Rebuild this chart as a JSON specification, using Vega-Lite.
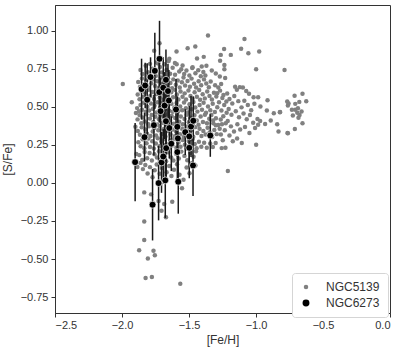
{
"$schema":"https://vega.github.io/schema/vega-lite/v6.json",
"width":335,"height":308,"autosize":"none",
"padding":{"left":55,"top":5,"right":17,"bottom":44},
"config":{"view":{"stroke":"#333","strokeWidth":1},
"axis":{"domainColor":"#333","tickColor":"#333","tickSize":4,"labelColor":"#333","labelFont":"Liberation Sans","labelFontSize":11,"titleFont":"Liberation Sans","titleFontSize":12,"titleFontWeight":"normal","titleColor":"#333","grid":false},
"legend":{"labelFont":"Liberation Sans","labelFontSize":12,"labelColor":"#333"}},
"datasets":{
"g":[
{"x":-1.862,"y":0.742},{"x":-1.848,"y":0.716},{"x":-1.823,"y":0.771},{"x":-1.806,"y":0.728},{"x":-1.791,"y":0.783},{"x":-1.774,"y":0.751},{"x":-1.748,"y":0.704},{"x":-1.741,"y":0.792},{"x":-1.717,"y":0.763},{"x":-1.702,"y":0.727},{"x":-1.683,"y":0.781},{"x":-1.668,"y":0.742},{"x":-1.652,"y":0.802},{"x":-1.641,"y":0.718},{"x":-1.622,"y":0.757},{"x":-1.604,"y":0.712},{"x":-1.592,"y":0.781},{"x":-1.573,"y":0.733},{"x":-1.558,"y":0.748},{"x":-1.536,"y":0.716},{"x":-1.519,"y":0.739},{"x":-1.497,"y":0.707},{"x":-1.476,"y":0.756},{"x":-1.452,"y":0.722},{"x":-1.431,"y":0.741},{"x":-1.412,"y":0.701},{"x":-1.393,"y":0.729},{"x":-1.378,"y":0.706},
{"x":-1.879,"y":0.664},{"x":-1.866,"y":0.631},{"x":-1.851,"y":0.687},{"x":-1.838,"y":0.648},{"x":-1.819,"y":0.672},{"x":-1.802,"y":0.627},{"x":-1.796,"y":0.691},{"x":-1.781,"y":0.655},{"x":-1.764,"y":0.682},{"x":-1.753,"y":0.638},{"x":-1.738,"y":0.669},{"x":-1.726,"y":0.624},{"x":-1.709,"y":0.693},{"x":-1.697,"y":0.651},{"x":-1.681,"y":0.672},{"x":-1.664,"y":0.633},{"x":-1.657,"y":0.688},{"x":-1.639,"y":0.657},{"x":-1.626,"y":0.622},{"x":-1.617,"y":0.681},{"x":-1.598,"y":0.645},{"x":-1.584,"y":0.674},{"x":-1.569,"y":0.628},{"x":-1.553,"y":0.662},{"x":-1.541,"y":0.694},{"x":-1.529,"y":0.641},{"x":-1.511,"y":0.671},{"x":-1.493,"y":0.633},{"x":-1.481,"y":0.686},{"x":-1.462,"y":0.652},{"x":-1.447,"y":0.627},{"x":-1.428,"y":0.668},{"x":-1.409,"y":0.643},{"x":-1.388,"y":0.681},{"x":-1.371,"y":0.654},{"x":-1.352,"y":0.629},{"x":-1.338,"y":0.667},{"x":-1.305,"y":0.642},{"x":-1.281,"y":0.628},
{"x":-1.883,"y":0.582},{"x":-1.869,"y":0.551},{"x":-1.857,"y":0.604},{"x":-1.842,"y":0.566},{"x":-1.828,"y":0.593},{"x":-1.815,"y":0.547},{"x":-1.801,"y":0.612},{"x":-1.789,"y":0.571},{"x":-1.772,"y":0.598},{"x":-1.761,"y":0.552},{"x":-1.744,"y":0.584},{"x":-1.731,"y":0.609},{"x":-1.718,"y":0.561},{"x":-1.703,"y":0.591},{"x":-1.689,"y":0.548},{"x":-1.676,"y":0.606},{"x":-1.662,"y":0.574},{"x":-1.646,"y":0.552},{"x":-1.633,"y":0.597},{"x":-1.619,"y":0.563},{"x":-1.607,"y":0.612},{"x":-1.591,"y":0.581},{"x":-1.579,"y":0.549},{"x":-1.563,"y":0.602},{"x":-1.548,"y":0.567},{"x":-1.532,"y":0.589},{"x":-1.522,"y":0.548},{"x":-1.504,"y":0.608},{"x":-1.489,"y":0.571},{"x":-1.473,"y":0.553},{"x":-1.458,"y":0.596},{"x":-1.441,"y":0.567},{"x":-1.424,"y":0.611},{"x":-1.417,"y":0.547},{"x":-1.398,"y":0.583},{"x":-1.382,"y":0.556},{"x":-1.364,"y":0.602},{"x":-1.347,"y":0.571},{"x":-1.329,"y":0.549},{"x":-1.314,"y":0.593},{"x":-1.296,"y":0.568},{"x":-1.268,"y":0.607},{"x":-1.251,"y":0.558},
{"x":-1.887,"y":0.492},{"x":-1.874,"y":0.471},{"x":-1.862,"y":0.513},{"x":-1.851,"y":0.482},{"x":-1.836,"y":0.527},{"x":-1.823,"y":0.468},{"x":-1.811,"y":0.501},{"x":-1.797,"y":0.476},{"x":-1.784,"y":0.523},{"x":-1.769,"y":0.487},{"x":-1.757,"y":0.508},{"x":-1.742,"y":0.463},{"x":-1.733,"y":0.531},{"x":-1.716,"y":0.494},{"x":-1.701,"y":0.467},{"x":-1.694,"y":0.529},{"x":-1.679,"y":0.481},{"x":-1.661,"y":0.512},{"x":-1.648,"y":0.474},{"x":-1.631,"y":0.521},{"x":-1.622,"y":0.468},{"x":-1.609,"y":0.497},{"x":-1.593,"y":0.526},{"x":-1.581,"y":0.471},{"x":-1.566,"y":0.503},{"x":-1.551,"y":0.478},{"x":-1.537,"y":0.529},{"x":-1.523,"y":0.491},{"x":-1.508,"y":0.463},{"x":-1.496,"y":0.517},{"x":-1.479,"y":0.484},{"x":-1.467,"y":0.532},{"x":-1.453,"y":0.496},{"x":-1.437,"y":0.469},{"x":-1.421,"y":0.512},{"x":-1.403,"y":0.481},{"x":-1.391,"y":0.527},{"x":-1.373,"y":0.462},{"x":-1.358,"y":0.503},{"x":-1.341,"y":0.478},{"x":-1.323,"y":0.521},{"x":-1.307,"y":0.466},{"x":-1.289,"y":0.498},{"x":-1.276,"y":0.531},{"x":-1.258,"y":0.477},{"x":-1.237,"y":0.512},{"x":-1.219,"y":0.462},
{"x":-1.884,"y":0.418},{"x":-1.869,"y":0.446},{"x":-1.856,"y":0.392},{"x":-1.847,"y":0.431},{"x":-1.831,"y":0.404},{"x":-1.818,"y":0.452},{"x":-1.806,"y":0.387},{"x":-1.792,"y":0.423},{"x":-1.779,"y":0.447},{"x":-1.766,"y":0.401},{"x":-1.751,"y":0.436},{"x":-1.738,"y":0.384},{"x":-1.724,"y":0.419},{"x":-1.711,"y":0.448},{"x":-1.698,"y":0.396},{"x":-1.686,"y":0.432},{"x":-1.671,"y":0.383},{"x":-1.659,"y":0.451},{"x":-1.643,"y":0.412},{"x":-1.629,"y":0.441},{"x":-1.614,"y":0.389},{"x":-1.603,"y":0.427},{"x":-1.588,"y":0.453},{"x":-1.573,"y":0.402},{"x":-1.561,"y":0.437},{"x":-1.546,"y":0.386},{"x":-1.533,"y":0.421},{"x":-1.517,"y":0.448},{"x":-1.502,"y":0.399},{"x":-1.487,"y":0.428},{"x":-1.471,"y":0.387},{"x":-1.459,"y":0.446},{"x":-1.442,"y":0.411},{"x":-1.429,"y":0.382},{"x":-1.413,"y":0.437},{"x":-1.396,"y":0.401},{"x":-1.381,"y":0.448},{"x":-1.366,"y":0.393},{"x":-1.349,"y":0.422},{"x":-1.333,"y":0.447},{"x":-1.318,"y":0.392},{"x":-1.299,"y":0.426},{"x":-1.282,"y":0.381},{"x":-1.263,"y":0.417},{"x":-1.244,"y":0.438},{"x":-1.226,"y":0.392},
{"x":-1.882,"y":0.342},{"x":-1.866,"y":0.317},{"x":-1.853,"y":0.366},{"x":-1.839,"y":0.303},{"x":-1.826,"y":0.351},{"x":-1.813,"y":0.324},{"x":-1.799,"y":0.372},{"x":-1.787,"y":0.309},{"x":-1.771,"y":0.338},{"x":-1.759,"y":0.361},{"x":-1.746,"y":0.312},{"x":-1.729,"y":0.347},{"x":-1.719,"y":0.374},{"x":-1.703,"y":0.322},{"x":-1.691,"y":0.353},{"x":-1.676,"y":0.306},{"x":-1.663,"y":0.341},{"x":-1.651,"y":0.371},{"x":-1.637,"y":0.318},{"x":-1.621,"y":0.352},{"x":-1.606,"y":0.307},{"x":-1.597,"y":0.339},{"x":-1.583,"y":0.373},{"x":-1.567,"y":0.321},{"x":-1.552,"y":0.356},{"x":-1.539,"y":0.303},{"x":-1.526,"y":0.344},{"x":-1.512,"y":0.371},{"x":-1.499,"y":0.316},{"x":-1.483,"y":0.348},{"x":-1.468,"y":0.304},{"x":-1.454,"y":0.367},{"x":-1.438,"y":0.329},{"x":-1.421,"y":0.356},{"x":-1.407,"y":0.309},{"x":-1.393,"y":0.342},{"x":-1.376,"y":0.318},{"x":-1.361,"y":0.363},{"x":-1.346,"y":0.331},{"x":-1.327,"y":0.302},{"x":-1.311,"y":0.348},{"x":-1.293,"y":0.321},{"x":-1.271,"y":0.357},
{"x":-1.878,"y":0.268},{"x":-1.861,"y":0.242},{"x":-1.846,"y":0.287},{"x":-1.833,"y":0.228},{"x":-1.817,"y":0.261},{"x":-1.803,"y":0.292},{"x":-1.791,"y":0.237},{"x":-1.774,"y":0.274},{"x":-1.762,"y":0.226},{"x":-1.747,"y":0.259},{"x":-1.733,"y":0.294},{"x":-1.721,"y":0.241},{"x":-1.706,"y":0.272},{"x":-1.693,"y":0.231},{"x":-1.683,"y":0.288},{"x":-1.667,"y":0.254},{"x":-1.652,"y":0.225},{"x":-1.638,"y":0.279},{"x":-1.624,"y":0.247},{"x":-1.611,"y":0.291},{"x":-1.594,"y":0.232},{"x":-1.578,"y":0.266},{"x":-1.563,"y":0.238},{"x":-1.547,"y":0.283},{"x":-1.531,"y":0.252},{"x":-1.518,"y":0.227},{"x":-1.503,"y":0.276},{"x":-1.487,"y":0.243},{"x":-1.472,"y":0.289},{"x":-1.457,"y":0.256},{"x":-1.443,"y":0.228},{"x":-1.426,"y":0.271},{"x":-1.408,"y":0.238},{"x":-1.387,"y":0.264},{"x":-1.367,"y":0.231},{"x":-1.342,"y":0.259},{"x":-1.322,"y":0.236},{"x":-1.301,"y":0.262},{"x":-1.256,"y":0.229},
{"x":-1.871,"y":0.183},{"x":-1.849,"y":0.151},{"x":-1.831,"y":0.204},{"x":-1.812,"y":0.162},{"x":-1.794,"y":0.197},{"x":-1.777,"y":0.148},{"x":-1.758,"y":0.189},{"x":-1.739,"y":0.167},{"x":-1.723,"y":0.209},{"x":-1.708,"y":0.153},{"x":-1.688,"y":0.186},{"x":-1.671,"y":0.142},{"x":-1.654,"y":0.201},{"x":-1.633,"y":0.168},{"x":-1.616,"y":0.147},{"x":-1.597,"y":0.192},{"x":-1.576,"y":0.161},{"x":-1.557,"y":0.206},{"x":-1.534,"y":0.178},{"x":-1.513,"y":0.149},{"x":-1.489,"y":0.197},{"x":-1.466,"y":0.172},{"x":-1.448,"y":0.208},
{"x":-1.885,"y":0.105},{"x":-1.862,"y":0.132},{"x":-1.844,"y":0.091},{"x":-1.826,"y":0.118},{"x":-1.809,"y":0.062},{"x":-1.791,"y":0.104},{"x":-1.772,"y":0.037},{"x":-1.756,"y":0.083},{"x":-1.741,"y":0.121},{"x":-1.719,"y":0.061},{"x":-1.702,"y":0.098},{"x":-1.686,"y":0.014},{"x":-1.667,"y":0.071},{"x":-1.648,"y":0.112},{"x":-1.631,"y":0.046},{"x":-1.612,"y":0.087},{"x":-1.589,"y":0.123},{"x":-1.571,"y":0.054},{"x":-1.552,"y":-0.035},{"x":-1.541,"y":0.021},{"x":-1.518,"y":0.102},{"x":-1.496,"y":0.064},{"x":-1.477,"y":0.131},{"x":-1.452,"y":0.115},
{"x":-1.834,"y":-0.062},{"x":-1.783,"y":-0.075},{"x":-1.727,"y":-0.118},{"x":-1.705,"y":-0.183},{"x":-1.685,"y":-0.139},{"x":-1.672,"y":-0.226},{"x":-1.625,"y":-0.123},{"x":-1.834,"y":-0.253},{"x":-1.834,"y":-0.375},
{"x":-1.872,"y":-0.443},{"x":-1.807,"y":-0.496},{"x":-1.824,"y":-0.625},{"x":-1.777,"y":-0.618},{"x":-1.765,"y":-0.445},{"x":-1.755,"y":-0.476},{"x":-1.565,"y":-0.662},
{"x":-1.72,"y":0.919},{"x":-1.76,"y":0.869},{"x":-1.593,"y":0.864},{"x":-1.647,"y":0.816},{"x":-1.51,"y":0.886},{"x":-1.453,"y":0.897},{"x":-1.44,"y":0.818},{"x":-1.39,"y":0.829},{"x":-1.358,"y":0.969},{"x":-1.268,"y":0.803},{"x":-1.238,"y":0.88},{"x":-1.236,"y":0.776},{"x":-1.236,"y":0.748},{"x":-1.473,"y":0.761},{"x":-1.405,"y":0.765},{"x":-1.37,"y":0.77},{"x":-1.188,"y":0.842},{"x":-1.263,"y":0.842},{"x":-1.111,"y":0.882},{"x":-1.086,"y":0.947},{"x":-1.057,"y":0.853},{"x":-0.976,"y":0.864},{"x":-0.999,"y":0.748},{"x":-0.787,"y":0.743},{"x":-1.605,"y":0.788},{"x":-1.548,"y":0.772},{"x":-1.705,"y":0.812},{"x":-1.731,"y":0.786},
{"x":-1.994,"y":0.65},{"x":-1.927,"y":0.53},{"x":-1.90,"y":0.37},{"x":-1.896,"y":0.46},{"x":-1.893,"y":0.19},
{"x":-1.156,"y":0.632},{"x":-1.121,"y":0.63},{"x":-1.143,"y":0.612},{"x":-1.098,"y":0.627},{"x":-1.073,"y":0.605},{"x":-1.052,"y":0.586},{"x":-1.018,"y":0.563},{"x":-0.984,"y":0.564},{"x":-0.914,"y":0.544},{"x":-0.967,"y":0.502},{"x":-0.919,"y":0.476},{"x":-0.867,"y":0.459},{"x":-0.822,"y":0.465},{"x":-0.989,"y":0.421},{"x":-0.969,"y":0.408},{"x":-0.984,"y":0.382},{"x":-0.932,"y":0.388},{"x":-0.89,"y":0.41},{"x":-0.842,"y":0.386},{"x":-0.832,"y":0.338},{"x":-0.762,"y":0.327},
{"x":-1.215,"y":0.588},{"x":-1.198,"y":0.552},{"x":-1.177,"y":0.523},{"x":-1.162,"y":0.571},{"x":-1.132,"y":0.538},{"x":-1.108,"y":0.497},{"x":-1.087,"y":0.541},{"x":-1.061,"y":0.512},{"x":-1.036,"y":0.478},{"x":-1.012,"y":0.521},{"x":-1.204,"y":0.486},{"x":-1.183,"y":0.449},{"x":-1.151,"y":0.471},{"x":-1.127,"y":0.432},{"x":-1.093,"y":0.456},{"x":-1.069,"y":0.419},{"x":-1.045,"y":0.447},{"x":-1.021,"y":0.396},{"x":-1.007,"y":0.361},{"x":-1.211,"y":0.408},{"x":-1.187,"y":0.372},{"x":-1.164,"y":0.339},{"x":-1.139,"y":0.386},{"x":-1.118,"y":0.351},{"x":-1.082,"y":0.368},{"x":-1.049,"y":0.329},{"x":-1.198,"y":0.312},{"x":-1.173,"y":0.274},{"x":-1.141,"y":0.292},{"x":-1.106,"y":0.262},{"x":-0.999,"y":0.251},{"x":-1.21,"y":0.078},{"x":-1.228,"y":0.232},{"x":-1.248,"y":0.281},{"x":-1.262,"y":0.318},{"x":-1.233,"y":0.347},{"x":-1.254,"y":0.386},{"x":-1.221,"y":0.536},{"x":-1.243,"y":0.579},{"x":-1.26,"y":0.65},{"x":-1.23,"y":0.69},{"x":-1.27,"y":0.70},{"x":-1.30,"y":0.72},{"x":-1.33,"y":0.74},{"x":-1.29,"y":0.59},{"x":-1.30,"y":0.38},{"x":-1.32,"y":0.41},
{"x":-0.712,"y":0.574},{"x":-0.653,"y":0.587},{"x":-0.767,"y":0.535},{"x":-0.757,"y":0.522},{"x":-0.762,"y":0.509},{"x":-0.707,"y":0.52},{"x":-0.677,"y":0.533},{"x":-0.625,"y":0.537},{"x":-0.732,"y":0.482},{"x":-0.707,"y":0.482},{"x":-0.687,"y":0.491},{"x":-0.692,"y":0.462},{"x":-0.675,"y":0.447},{"x":-0.725,"y":0.443},{"x":-0.683,"y":0.428},{"x":-0.653,"y":0.393},{"x":-0.71,"y":0.355},{"x":-0.765,"y":0.329},{"x":-0.82,"y":0.467},{"x":-0.66,"y":0.47}
],
"b":[
{"x":-1.902,"y":0.137,"lo":-0.120,"hi":0.394},
{"x":-1.854,"y":0.617,"lo":0.417,"hi":0.817},
{"x":-1.832,"y":0.301,"lo":0.141,"hi":0.461},
{"x":-1.827,"y":0.641,"lo":0.491,"hi":0.791},
{"x":-1.812,"y":0.547,"lo":0.307,"hi":0.787},
{"x":-1.787,"y":0.696,"lo":0.566,"hi":0.826},
{"x":-1.762,"y":0.380,"lo":0.180,"hi":0.580},
{"x":-1.772,"y":-0.143,"lo":-0.378,"hi":0.092},
{"x":-1.755,"y":0.737,"lo":0.487,"hi":0.987},
{"x":-1.720,"y":0.816,"lo":0.566,"hi":1.066},
{"x":-1.722,"y":0.597,"lo":0.397,"hi":0.797},
{"x":-1.712,"y":0.472,"lo":0.252,"hi":0.692},
{"x":-1.727,"y":-0.001,"lo":-0.246,"hi":0.244},
{"x":-1.705,"y":0.135,"lo":-0.065,"hi":0.335},
{"x":-1.692,"y":0.174,"lo":-0.006,"hi":0.354},
{"x":-1.692,"y":0.626,"lo":0.426,"hi":0.826},
{"x":-1.682,"y":0.509,"lo":0.289,"hi":0.729},
{"x":-1.672,"y":0.678,"lo":0.478,"hi":0.878},
{"x":-1.672,"y":0.406,"lo":0.206,"hi":0.606},
{"x":-1.670,"y":0.229,"lo":0.029,"hi":0.429},
{"x":-1.677,"y":0.017,"lo":-0.230,"hi":0.264},
{"x":-1.657,"y":0.604,"lo":0.424,"hi":0.784},
{"x":-1.650,"y":0.542,"lo":0.342,"hi":0.742},
{"x":-1.647,"y":0.361,"lo":0.161,"hi":0.561},
{"x":-1.632,"y":0.258,"lo":0.078,"hi":0.438},
{"x":-1.597,"y":0.483,"lo":0.283,"hi":0.683},
{"x":-1.587,"y":0.369,"lo":0.169,"hi":0.569},
{"x":-1.583,"y":0.293,"lo":0.093,"hi":0.493},
{"x":-1.587,"y":0.203,"lo":0.003,"hi":0.403},
{"x":-1.580,"y":0.008,"lo":-0.202,"hi":0.218},
{"x":-1.528,"y":0.334,"lo":0.184,"hi":0.484},
{"x":-1.498,"y":0.306,"lo":0.106,"hi":0.506},
{"x":-1.485,"y":0.371,"lo":0.171,"hi":0.571},
{"x":-1.498,"y":0.231,"lo":0.031,"hi":0.431},
{"x":-1.468,"y":0.409,"lo":0.249,"hi":0.569},
{"x":-1.470,"y":0.115,"lo":-0.085,"hi":0.315},
{"x":-1.341,"y":0.312,"lo":0.172,"hi":0.452}
]},
"layer":[
{"data":{"name":"g"},"transform":[{"calculate":"'NGC5139'","as":"s"}],
"mark":{"type":"circle","opacity":1},
"encoding":{"x":{"field":"x","type":"quantitative","scale":{"domain":[-2.5,0],"nice":false,"zero":false},"axis":{"title":"[Fe/H]","values":[-2.5,-2,-1.5,-1,-0.5,0],"format":".1f","labelPadding":2,"titlePadding":4}},
"y":{"field":"y","type":"quantitative","scale":{"domain":[-0.855,1.17],"nice":false,"zero":false},"axis":{"title":"[S/Fe]","values":[-0.75,-0.5,-0.25,0,0.25,0.5,0.75,1.0],"format":".2f","labelPadding":3,"titlePadding":6}},
"color":{"field":"s","type":"nominal","scale":{"domain":["NGC5139","NGC6273"],"range":["#808080","#000000"]},"legend":{"title":null,"orient":"none","legendX":237,"legendY":268,"padding":8,"strokeColor":"#d5d5d5","fillColor":"#ffffff","cornerRadius":3,"rowPadding":4,"symbolType":"circle","labelOffset":14}},
"size":{"field":"s","type":"nominal","scale":{"domain":["NGC5139","NGC6273"],"range":[20,48]},"legend":{"title":null}}}},
{"data":{"name":"b"},"mark":{"type":"rule","color":"#1a1a1a","strokeWidth":1.5},
"encoding":{"x":{"field":"x","type":"quantitative"},"y":{"field":"lo","type":"quantitative"},"y2":{"field":"hi"}}},
{"data":{"name":"b"},"transform":[{"calculate":"'NGC6273'","as":"s"}],
"mark":{"type":"circle","opacity":1,"stroke":"#ffffff","strokeWidth":0.7},
"encoding":{"x":{"field":"x","type":"quantitative"},"y":{"field":"y","type":"quantitative"},
"color":{"field":"s","type":"nominal"},"size":{"field":"s","type":"nominal"}}}
]
}
